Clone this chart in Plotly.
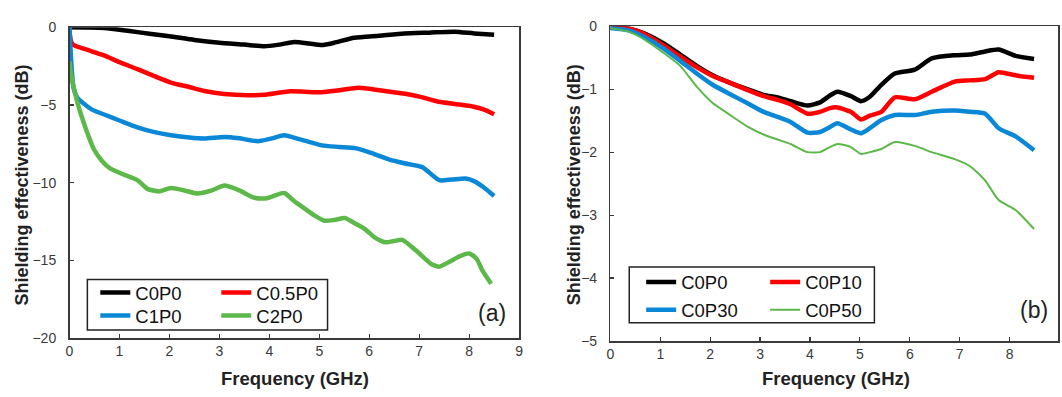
import plotly.graph_objects as go

W, H = 1062, 397

# ---------------- Data: panel (a) ----------------
a_names = ["C0P0", "C0.5P0", "C1P0", "C2P0"]
a_colors = ["#000000", "#ff0000", "#0a87d6", "#5db84a"]

a_x_c0p0 = [0.0, 0.3, 0.7, 1.2, 1.6, 2.0, 2.5, 3.0, 3.5, 3.9, 4.2, 4.5, 4.8, 5.05, 5.3, 5.7, 6.2, 6.7, 7.2, 7.7, 8.1, 8.5]
a_y_c0p0 = [0.0, -0.02, -0.05, -0.25, -0.42, -0.58, -0.82, -1.0, -1.12, -1.23, -1.12, -0.95, -1.05, -1.15, -1.0, -0.68, -0.55, -0.41, -0.35, -0.29, -0.4, -0.49]

a_x_c05p0 = [0.0, 0.03, 0.08, 0.3, 0.68, 1.0, 1.36, 1.7, 2.03, 2.4, 2.7, 3.1, 3.57, 3.9, 4.38, 4.7, 5.05, 5.4, 5.79, 6.2, 6.72, 7.05, 7.4, 7.75, 8.07, 8.3, 8.5]
a_y_c05p0 = [-0.3, -0.9, -1.15, -1.4, -1.8, -2.25, -2.7, -3.15, -3.56, -3.85, -4.1, -4.3, -4.38, -4.35, -4.13, -4.15, -4.18, -4.05, -3.9, -4.05, -4.28, -4.5, -4.8, -4.95, -5.1, -5.3, -5.6]

a_x_c1p0 = [0.0, 0.03, 0.08, 0.15, 0.28, 0.45, 0.68, 1.0, 1.36, 1.7, 2.03, 2.4, 2.7, 3.1, 3.4, 3.77, 4.05, 4.3, 4.6, 5.05, 5.4, 5.72, 6.05, 6.39, 6.7, 7.06, 7.4, 7.65, 7.93, 8.1, 8.27, 8.5]
a_y_c1p0 = [0.0, -2.0, -3.9, -4.5, -4.9, -5.3, -5.6, -6.0, -6.44, -6.75, -6.95, -7.1, -7.16, -7.06, -7.15, -7.33, -7.15, -6.95, -7.2, -7.6, -7.7, -7.78, -8.1, -8.5, -8.75, -9.0, -9.84, -9.8, -9.73, -9.9, -10.25, -10.86]

a_x_c2p0 = [0.0, 0.03, 0.1, 0.18, 0.28, 0.38, 0.48, 0.65, 0.82, 1.1, 1.36, 1.56, 1.8, 2.03, 2.3, 2.56, 2.85, 3.1, 3.4, 3.7, 3.95, 4.3, 4.5, 4.71, 4.9, 5.11, 5.3, 5.52, 5.7, 5.92, 6.1, 6.32, 6.5, 6.66, 6.95, 7.26, 7.4, 7.6, 7.8, 8.0, 8.15, 8.27, 8.44]
a_y_c2p0 = [-2.2, -3.0, -4.07, -5.1, -6.1, -7.0, -7.8, -8.6, -9.1, -9.5, -9.84, -10.4, -10.56, -10.35, -10.5, -10.7, -10.5, -10.19, -10.5, -10.97, -11.0, -10.66, -11.2, -11.67, -12.1, -12.45, -12.4, -12.28, -12.6, -13.0, -13.5, -13.83, -13.75, -13.68, -14.4, -15.27, -15.4, -15.1, -14.75, -14.55, -14.9, -15.68, -16.5]

# ---------------- Data: panel (b) ----------------
b_names = ["C0P0", "C0P10", "C0P30", "C0P50"]
b_colors = ["#000000", "#ff0000", "#0a87d6", "#5db84a"]

b_x = [0.0, 0.38, 0.7, 1.06, 1.4, 1.73, 2.05, 2.4, 2.74, 3.07, 3.35, 3.61, 3.95, 4.2, 4.4, 4.55, 4.82, 5.02, 5.2, 5.43, 5.7, 6.1, 6.44, 6.9, 7.2, 7.51, 7.78, 8.12, 8.49]
b_y_c0p0 = [-0.02, -0.04, -0.12, -0.27, -0.45, -0.63, -0.78, -0.9, -1.0, -1.09, -1.13, -1.19, -1.26, -1.21, -1.1, -1.04, -1.11, -1.19, -1.12, -0.93, -0.75, -0.69, -0.51, -0.46, -0.45, -0.4, -0.37, -0.47, -0.52]
b_y_c0p10 = [-0.02, -0.04, -0.13, -0.3, -0.48, -0.65, -0.79, -0.9, -1.01, -1.11, -1.17, -1.24, -1.39, -1.36, -1.3, -1.29, -1.36, -1.48, -1.42, -1.36, -1.13, -1.16, -1.04, -0.88, -0.86, -0.84, -0.73, -0.78, -0.82]
b_y_c0p30 = [-0.03, -0.07, -0.18, -0.35, -0.55, -0.75, -0.93, -1.08, -1.22, -1.36, -1.44, -1.52, -1.69, -1.68, -1.6, -1.54, -1.64, -1.7, -1.62, -1.49, -1.41, -1.41, -1.36, -1.34, -1.36, -1.39, -1.62, -1.75, -1.97]
b_y_c0p50 = [-0.03, -0.09, -0.22, -0.42, -0.63, -0.96, -1.22, -1.41, -1.59, -1.72, -1.8, -1.87, -2.0, -2.0, -1.92, -1.87, -1.92, -2.03, -2.0, -1.95, -1.84, -1.9, -2.0, -2.11, -2.22, -2.45, -2.76, -2.92, -3.22]

a_series = [(a_x_c0p0, a_y_c0p0), (a_x_c05p0, a_y_c05p0), (a_x_c1p0, a_y_c1p0), (a_x_c2p0, a_y_c2p0)]
b_series = [b_y_c0p0, b_y_c0p10, b_y_c0p30, b_y_c0p50]
b_widths = [4.5, 4.5, 4.5, 2]

FONT = "Liberation Sans, Arial, sans-serif"

fig = go.Figure()

def px_x(p):
    return p / W

def px_y(p):
    return 1 - p / H

legend_ids_a = ["legend", "legend", "legend2", "legend2"]
for i, (xs, ys) in enumerate(a_series):
    fig.add_trace(go.Scatter(
        x=xs, y=ys, mode="lines", name=a_names[i],
        line=dict(color=a_colors[i], width=4.5, shape="spline", smoothing=0.6),
        xaxis="x", yaxis="y", legend=legend_ids_a[i]))

legend_ids_b = ["legend3", "legend3", "legend4", "legend4"]
for i, ys in enumerate(b_series):
    fig.add_trace(go.Scatter(
        x=b_x, y=ys, mode="lines", name=b_names[i],
        line=dict(color=b_colors[i], width=b_widths[i], shape="spline", smoothing=0.6),
        xaxis="x2", yaxis="y2", legend=legend_ids_b[i]))

axis_common = dict(
    showline=True, linecolor="#3a3a3a", linewidth=1.5, mirror=True,
    ticks="inside", ticklen=4, tickcolor="#3a3a3a", tickwidth=1.2,
    showgrid=False, zeroline=False,
    tickfont=dict(family=FONT, size=14, color="#3a3a3a"),
)

fig.update_layout(
    width=W, height=H,
    margin=dict(l=0, r=0, t=0, b=0),
    paper_bgcolor="white", plot_bgcolor="white",
    font=dict(family=FONT),
    xaxis=dict(domain=[px_x(66), px_x(519)], range=[0, 9], dtick=1, anchor="y",
               ticklabelstandoff=0, **axis_common),
    yaxis=dict(domain=[px_y(344), px_y(20)], range=[-20, 0], dtick=5, anchor="x",
               ticklabelstandoff=9, **axis_common),
    xaxis2=dict(domain=[px_x(611), 1.0], range=[0, 8.97], dtick=1, anchor="y2",
                ticklabelstandoff=0, **axis_common),
    yaxis2=dict(domain=[px_y(347), px_y(19)], range=[-5, 0], dtick=1, anchor="x2",
                ticklabelstandoff=9, **axis_common),
    showlegend=True,
)

leg_common = dict(orientation="h", bgcolor="rgba(0,0,0,0)", borderwidth=0,
                  font=dict(family=FONT, size=18.5, color="#111111"),
                  entrywidthmode="pixels",
                  xanchor="left", yanchor="middle", itemclick=False)
fig.update_layout(
    legend=dict(x=px_x(92), y=px_y(297), entrywidth=76, **leg_common),
    legend2=dict(x=px_x(92), y=px_y(321), entrywidth=76, **leg_common),
    legend3=dict(x=px_x(642), y=px_y(286), entrywidth=79, **leg_common),
    legend4=dict(x=px_x(642), y=px_y(315), entrywidth=79, **leg_common),
)

# legend frames
fig.add_shape(type="rect", xref="paper", yref="paper",
              x0=px_x(84), x1=px_x(326), y0=px_y(335.5), y1=px_y(283),
              line=dict(color="#222222", width=1.5))
fig.add_shape(type="rect", xref="paper", yref="paper",
              x0=px_x(630), x1=px_x(877), y0=px_y(328), y1=px_y(270),
              line=dict(color="#222222", width=1.5))

ann = []
# panel labels
ann.append(dict(text="(a)", x=px_x(508), y=px_y(318), xanchor="right", yanchor="middle",
                font=dict(family=FONT, size=23, color="#222222")))
ann.append(dict(text="(b)", x=px_x(1054), y=px_y(315), xanchor="right", yanchor="middle",
                font=dict(family=FONT, size=23, color="#222222")))
# axis titles
for cx in (293, 838):
    ann.append(dict(text="<b>Frequency (GHz)</b>", x=px_x(cx), y=px_y(386),
                    xanchor="center", yanchor="middle",
                    font=dict(family=FONT, size=18.5, color="#222222")))
for cx in (18, 574):
    ann.append(dict(text="<b>Shielding effectiveness (dB)</b>", x=px_x(cx), y=px_y(184),
                    xanchor="center", yanchor="middle", textangle=-90,
                    font=dict(family=FONT, size=18, color="#222222")))
for a in ann:
    a.update(xref="paper", yref="paper", showarrow=False)
fig.update_layout(annotations=ann)

fig.write_html("out.html",
               config={"displayModeBar": False, "staticPlot": True},
               post_script="document.body.style.margin='0';document.body.style.overflow='hidden';")
